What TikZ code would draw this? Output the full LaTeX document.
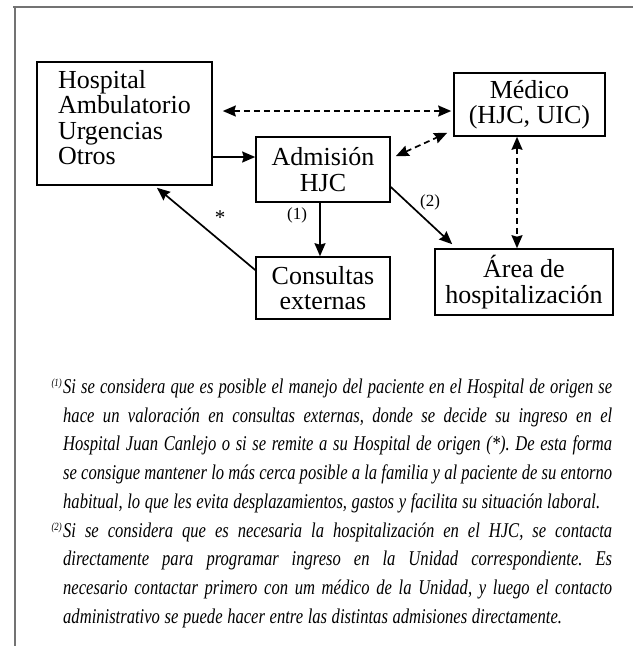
\documentclass[tikz,border=0pt]{standalone}
\usepackage{fontspec}
\setmainfont{Liberation Serif}
\newfontfamily\notafont[FakeStretch=0.79]{Liberation Serif}
\usetikzlibrary{arrows.meta}

\begin{document}
\begin{tikzpicture}[x=1pt, y=-1pt,
  caja/.style={draw, line width=1.6pt, inner sep=0pt, align=center,
    font=\fontsize{26}{25.5}\selectfont},
  flecha/.style={line width=1.7pt, -{Stealth[length=13pt,width=11pt,inset=1.5pt]}},
  doble/.style={line width=1.7pt, dash pattern=on 6pt off 4pt,
    {Stealth[length=13pt,width=11pt,inset=1.5pt]}-{Stealth[length=13pt,width=11pt,inset=1.5pt]}},
  marca/.style={inner sep=0pt, font=\fontsize{17}{17}\selectfont}]
  \useasboundingbox (0,0) rectangle (633,649);
  % marco
  \draw[black!55, line width=1.5pt] (13,7) -- (633,7);
  \draw[black!55, line width=1.5pt] (15,7) -- (15,646);
  % cajas
  \node[caja, minimum width=175pt, minimum height=123pt, text width=133pt, text depth=89pt, align=left]
    (hosp) at (124.5,123.5) {Hospital\\Ambulatorio\\Urgencias\\Otros};
  \node[caja, minimum width=134pt, minimum height=65pt] (adm) at (323,169.5) {Admisión\\HJC};
  \node[caja, minimum width=134pt, minimum height=62pt] (cons) at (323,288) {Consultas\\externas};
  \node[caja, minimum width=151pt, minimum height=63pt] (med) at (529.5,104.5) {Médico\\(HJC, UIC)};
  \node[caja, minimum width=178pt, minimum height=66pt] (area) at (524,282) {Área de\\hospitalización};
  % flechas
  \draw[doble] ([xshift=10pt,yshift=12.5pt]hosp.east) -- ([xshift=-2pt,yshift=12.5pt]hosp.east -| med.west);
  \draw[flecha] ([yshift=-33.5pt]hosp.east) -- ([yshift=-33.5pt]hosp.east -| adm.west);
  \draw[doble] ([xshift=5pt,yshift=-20pt]adm.north east) -- ([xshift=-6pt,yshift=4pt]med.south west);
  \draw[doble] ([xshift=-12.5pt]med.south) -- ([xshift=-12.5pt]med.south |- area.north);
  \draw[flecha] ([xshift=-3pt]adm.south) -- ([xshift=-3pt]cons.north);
  \draw[flecha] ([yshift=-17.5pt]adm.east) -- ([xshift=18pt,yshift=4pt]area.north west);
  \draw[flecha] ([yshift=18pt]cons.west) -- ([xshift=32.5pt,yshift=-2pt]hosp.south);
  % etiquetas
  \node[marca, font=\fontsize{21}{21}\selectfont] (ast) at (220,218) {*};
  \node[marca] (n1) at (297,215) {(1)};
  \node[marca] (n2) at (430,202) {(2)};
  % notas
  \node[anchor=north west, inner sep=0pt, text width=549pt, align=justify,
    font=\notafont\itshape\fontsize{21}{28.75}\selectfont] (notas) at (63,378.5) {%
    \frenchspacing\hyphenpenalty=10000 \tolerance=10000 \spaceskip=0.22em plus 0.4em minus 0.08em
    \leavevmode\llap{\raisebox{7pt}{\fontsize{11}{11}\selectfont(1)}\hspace{1.5pt}}Si se considera que es posible el manejo del paciente en el Hospital de origen se\linebreak
    hace un valoración en consultas externas, donde se decide su ingreso en el\linebreak
    Hospital Juan Canlejo o si se remite a su Hospital de origen (*). De esta forma\linebreak
    se consigue mantener lo más cerca posible a la familia y al paciente de su entorno\linebreak
    habitual, lo que les evita desplazamientos, gastos y facilita su situación laboral.\par
    \leavevmode\llap{\raisebox{7pt}{\fontsize{11}{11}\selectfont(2)}\hspace{1.5pt}}Si se considera que es necesaria la hospitalización en el HJC, se contacta\linebreak
    directamente para programar ingreso en la Unidad correspondiente. Es\linebreak
    necesario contactar primero con um médico de la Unidad, y luego el contacto\linebreak
    administrativo se puede hacer entre las distintas admisiones directamente.};
\end{tikzpicture}
\end{document}
